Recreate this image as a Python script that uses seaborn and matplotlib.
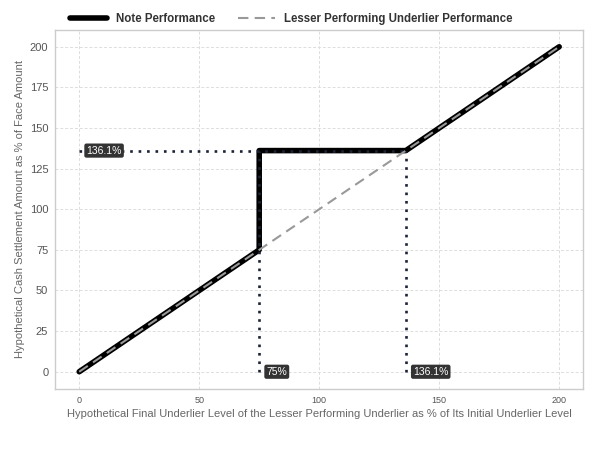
import matplotlib
matplotlib.use("Agg")
import matplotlib.pyplot as plt
import seaborn as sns
import pandas as pd

# Data
underlier_x = [0, 75, 75, 136.1, 200]
note_y = [0, 75, 136.1, 136.1, 200]
lesser_x = [0, 200]
lesser_y = [0, 200]
barrier = 75
cap = 136.1
x_ticks = [0, 50, 100, 150, 200]
y_ticks = [0, 25, 50, 75, 100, 125, 150, 175, 200]

sns.set_theme(style="whitegrid")
plt.rcParams['font.family'] = ['Liberation Sans', 'DejaVu Sans']

fig = plt.figure(figsize=(6, 4.5), dpi=100)
ax = fig.add_axes([0.092, 0.136, 0.88, 0.798])

note_df = pd.DataFrame({"x": underlier_x, "y": note_y})
less_df = pd.DataFrame({"x": lesser_x, "y": lesser_y})

sns.lineplot(data=note_df, x="x", y="y", ax=ax, color="black", lw=4, sort=False,
             estimator=None, label="Note Performance", zorder=3,
             solid_capstyle="round")

# dotted guide lines (drawn above the note line)
dot_style = dict(color="#1c2238", linestyle=(0, (1, 2.2)), lw=1.9, zorder=3.5)
ax.plot([0, cap], [cap, cap], **dot_style)
ax.plot([barrier, barrier], [0, cap], **dot_style)
ax.plot([cap, cap], [0, cap], **dot_style)

sns.lineplot(data=less_df, x="x", y="y", ax=ax, color="#999999", lw=1.5, sort=False,
             estimator=None, label="Lesser Performing Underlier Performance",
             linestyle=(0, (5, 3)), zorder=4)

box = dict(boxstyle="round,pad=0.2", fc="#333333", ec="none")
ax.text(0 + 3, cap, "136.1%", color="white", fontsize=7.5, ha="left", va="center", bbox=box, zorder=5)
ax.text(barrier + 3, 0, "75%", color="white", fontsize=7.5, ha="left", va="center", bbox=box, zorder=5)
ax.text(cap + 3, 0, "136.1%", color="white", fontsize=7.5, ha="left", va="center", bbox=box, zorder=5)

ax.set_xlim(-10, 210)
ax.set_ylim(-10.5, 210.5)
ax.set_xticks(x_ticks)
ax.set_yticks(y_ticks)
ax.tick_params(axis="x", labelsize=6.5, colors="#555555", length=0, pad=5)
ax.tick_params(axis="y", labelsize=8, colors="#555555", length=0, pad=5)
ax.grid(True, color="#dddddd", linestyle=(0, (3, 2)), lw=0.7)
for s in ax.spines.values():
    s.set_color("#cccccc")
    s.set_linewidth(1)

ax.set_xlabel("Hypothetical Final Underlier Level of the Lesser Performing Underlier as % of Its Initial Underlier Level",
              fontsize=8, color="#666666", labelpad=3)
ax.set_ylabel("Hypothetical Cash Settlement Amount as % of Face Amount", fontsize=8, color="#666666", labelpad=3)

leg = ax.legend(loc="lower left", bbox_to_anchor=(0.015, 0.995), ncol=2, frameon=False,
                fontsize=8.3, handlelength=3.2, columnspacing=2.0, borderaxespad=0.2)
for t in leg.get_texts():
    t.set_fontweight("bold")
    t.set_color("#333333")

fig.savefig("out.png", dpi=100)
